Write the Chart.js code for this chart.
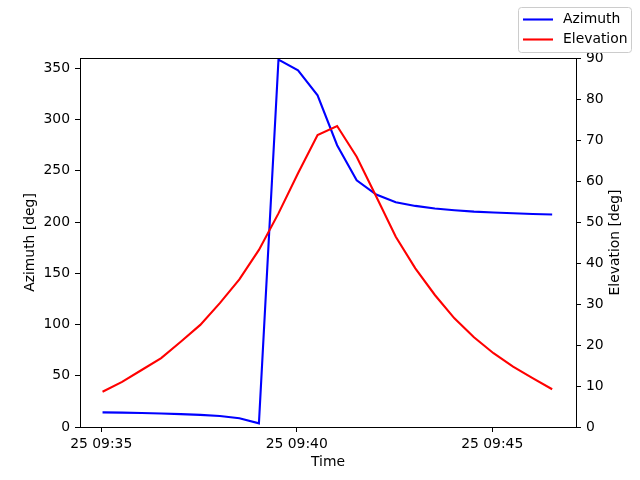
<!DOCTYPE html>
<html>
<head>
<meta charset="utf-8">
<script src="https://cdn.jsdelivr.net/npm/chart.js@4/dist/chart.umd.min.js"></script>
<style>
  html, body { margin: 0; padding: 0; background: #fff; }
  #c { display: block; }
</style>
</head>
<body>
<canvas id="c" width="640" height="480"></canvas>
<script>
// sample times (day 25, hh:mm:ss)
var times = [
  "09:35:02", "09:35:32", "09:36:02", "09:36:32", "09:37:02", "09:37:32",
  "09:38:02", "09:38:32", "09:39:02", "09:39:32", "09:40:02", "09:40:32",
  "09:41:02", "09:41:32", "09:42:02", "09:42:32", "09:43:02", "09:43:32",
  "09:44:02", "09:44:32", "09:45:02", "09:45:32", "09:46:02", "09:46:32"
];
var azimuth = [
  14.3, 14.0, 13.6, 13.2, 12.6, 11.8, 10.7, 8.6, 3.6, 358.4, 348.0, 323.6,
  274.9, 240.7, 226.8, 219.3, 215.7, 213.2, 211.5, 210.1, 209.3, 208.5, 207.8, 207.3
];
var elevation = [
  8.6, 11.0, 13.9, 16.8, 20.8, 24.9, 30.2, 36.0, 43.2, 52.1, 61.9, 71.2,
  73.4, 65.9, 56.2, 46.4, 38.7, 32.2, 26.5, 21.9, 18.0, 14.7, 11.9, 9.2
];
var xTicks = [35, 40, 45];          // minutes after 09:00
var azTicks = [0, 50, 100, 150, 200, 250, 300, 350];
var elTicks = [0, 10, 20, 30, 40, 50, 60, 70, 80, 90];

var FONT = "DejaVu Sans";
var FS = 13.9;

function toMinutes(s) {
  var p = s.split(":");
  return (+p[0] - 9) * 60 + (+p[1]) + (+p[2]) / 60;
}
function pairs(vals) {
  return vals.map(function (v, i) { return { x: toMinutes(times[i]), y: v }; });
}
function fixTicks(list) {
  return function (scale) { scale.ticks = list.map(function (v) { return { value: v }; }); };
}

var frame = {
  id: "frame",
  afterDraw: function (chart) {
    var ctx = chart.ctx, a = chart.chartArea;
    ctx.save();
    ctx.strokeStyle = "#000";
    ctx.lineWidth = 1;
    ctx.beginPath();
    ctx.moveTo(a.left, a.top + 0.5);
    ctx.lineTo(a.right, a.top + 0.5);
    ctx.stroke();

    // axis titles
    ctx.fillStyle = "#000";
    ctx.font = FS + "px '" + FONT + "'";
    ctx.textAlign = "center";
    ctx.textBaseline = "middle";
    var midY = (a.top + a.bottom) / 2;
    ctx.save();
    ctx.translate(30, midY);
    ctx.rotate(-Math.PI / 2);
    ctx.fillText("Azimuth [deg]", 0, 0);
    ctx.restore();
    ctx.save();
    ctx.translate(615, midY);
    ctx.rotate(-Math.PI / 2);
    ctx.fillText("Elevation [deg]", 0, 0);
    ctx.restore();
    ctx.fillText("Time", (a.left + a.right) / 2, 462);

    // legend box
    var bx = 518.5, by = 7.5, bw = 113, bh = 45, r = 3;
    ctx.beginPath();
    ctx.moveTo(bx + r, by);
    ctx.lineTo(bx + bw - r, by);
    ctx.arcTo(bx + bw, by, bx + bw, by + r, r);
    ctx.lineTo(bx + bw, by + bh - r);
    ctx.arcTo(bx + bw, by + bh, bx + bw - r, by + bh, r);
    ctx.lineTo(bx + r, by + bh);
    ctx.arcTo(bx, by + bh, bx, by + bh - r, r);
    ctx.lineTo(bx, by + r);
    ctx.arcTo(bx, by, bx + r, by, r);
    ctx.closePath();
    ctx.fillStyle = "rgba(255,255,255,0.8)";
    ctx.fill();
    ctx.strokeStyle = "#cccccc";
    ctx.stroke();

    var items = [["Azimuth", "#0000ff", 19.5], ["Elevation", "#ff0000", 39.5]];
    ctx.textAlign = "left";
    items.forEach(function (it) {
      ctx.strokeStyle = it[1];
      ctx.lineWidth = 2.1;
      ctx.beginPath();
      ctx.moveTo(523, it[2]);
      ctx.lineTo(553, it[2]);
      ctx.stroke();
      ctx.fillStyle = "#000";
      ctx.fillText(it[0], 563, it[2]);
    });
    ctx.restore();
  }
};

var tickFont = { family: FONT, size: FS };

new Chart(document.getElementById("c"), {
  type: "line",
  data: {
    datasets: [
      { label: "Azimuth", data: pairs(azimuth), yAxisID: "yAz", borderColor: "#0000ff",
        borderWidth: 2.1, pointRadius: 0, tension: 0, fill: false, order: 1 },
      { label: "Elevation", data: pairs(elevation), yAxisID: "yEl", borderColor: "#ff0000",
        borderWidth: 2.1, pointRadius: 0, tension: 0, fill: false, order: 0 }
    ]
  },
  options: {
    responsive: false,
    animation: false,
    devicePixelRatio: 1,
    layout: { padding: { top: 58, left: 0, right: 0, bottom: 0 } },
    plugins: { legend: { display: false }, tooltip: { enabled: false } },
    scales: {
      x: {
        type: "linear", position: "bottom", min: 34.457, max: 47.143,
        afterBuildTicks: fixTicks(xTicks),
        afterFit: function (s) { s.height = 53; },
        grid: { drawOnChartArea: false, tickLength: 5, color: "#000" },
        border: { color: "#000", width: 1 },
        ticks: {
          color: "#000", font: tickFont, padding: 4, maxRotation: 0,
          callback: function (v) {
            var h = 9 + Math.floor(v / 60), m = v % 60;
            return "25 " + (h < 10 ? "0" : "") + h + ":" + (m < 10 ? "0" : "") + m;
          }
        }
      },
      yAz: {
        type: "linear", position: "left", min: 0, max: 360,
        afterBuildTicks: fixTicks(azTicks),
        afterFit: function (s) { s.width = 80; },
        grid: { drawOnChartArea: false, tickLength: 5, color: "#000" },
        border: { color: "#000", width: 1 },
        ticks: { color: "#000", font: tickFont, padding: 5 }
      },
      yEl: {
        type: "linear", position: "right", min: 0, max: 90,
        afterBuildTicks: fixTicks(elTicks),
        afterFit: function (s) { s.width = 64; },
        grid: { drawOnChartArea: false, tickLength: 5, color: "#000" },
        border: { color: "#000", width: 1 },
        ticks: { color: "#000", font: tickFont, padding: 5 }
      }
    }
  },
  plugins: [frame]
});
</script>
</body>
</html>
